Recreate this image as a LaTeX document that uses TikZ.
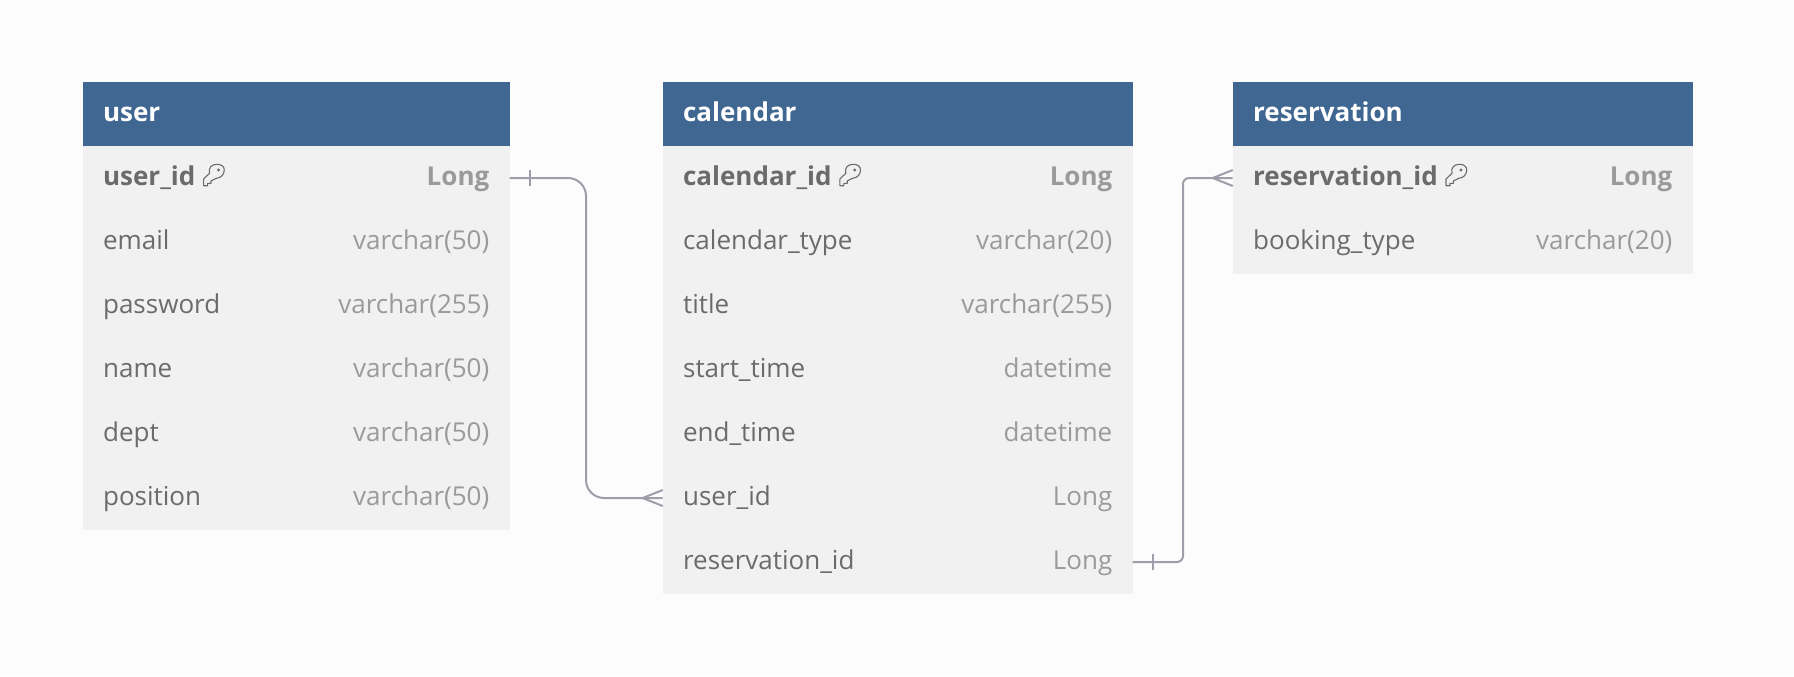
\documentclass[tikz,border=0pt]{standalone}
\usepackage{fontspec}
\setmainfont{Open Sans}
\definecolor{pagebg}{HTML}{FCFCFC}
\definecolor{headbg}{HTML}{406792}
\definecolor{rowbg}{HTML}{F1F1F1}
\definecolor{nametxt}{HTML}{6B6B6B}
\definecolor{typetxt}{HTML}{9A9A9A}
\definecolor{linkcol}{HTML}{9E9EAA}
\tikzset{
  x=.5pt,y=-.5pt,
  headbox/.style={fill=headbg,draw=none,inner sep=0pt,outer sep=0pt,minimum height=32pt},
  rowbox/.style={fill=rowbg,draw=none,inner sep=0pt,outer sep=0pt,minimum height=32pt},
  headtxt/.style={inner sep=0pt,anchor=base west,text=white,font=\fontsize{13}{13}\selectfont\bfseries},
  nametxtn/.style={inner sep=0pt,anchor=base west,text=nametxt,font=\fontsize{13}{13}\selectfont},
  typetxtn/.style={inner sep=0pt,anchor=base east,text=typetxt,font=\fontsize{13}{13}\selectfont},
  boldname/.style={nametxtn,font=\fontsize{13}{13}\selectfont\bfseries},
  boldtype/.style={typetxtn,font=\fontsize{13}{13}\selectfont\bfseries},
  link/.style={draw=linkcol,line width=1pt},
  keyline/.style={draw=nametxt,line width=.55pt,line cap=round,line join=round},
}
\newcommand{\tablehead}[4]{%
  \node[headbox,anchor=north west,minimum width=#3*.5pt] (#1) at (#2,82) {};
  \node[headtxt] (#1t) at ([xshift=10pt,yshift=-3.5pt]#1.west) {#4};
}
\newcommand{\tablerow}[6]{%
  \node[rowbox,anchor=west,minimum width=#3*.5pt] (#1) at (#2,#4) {};
  \node[nametxtn] (#1n) at ([xshift=10pt,yshift=-3.5pt]#1.west) {#5};
  \node[typetxtn] (#1y) at ([xshift=-10pt,yshift=-3.5pt]#1.east) {#6};
}
\newcommand{\keyrow}[6]{%
  \node[rowbox,anchor=west,minimum width=#3*.5pt] (#1) at (#2,#4) {};
  \node[boldname] (#1n) at ([xshift=10pt,yshift=-3.5pt]#1.west) {#5};
  \node[boldtype] (#1y) at ([xshift=-10pt,yshift=-3.5pt]#1.east) {#6};
  \begin{scope}[shift={(#1n.base east)},xshift=2.4pt]
    \draw[keyline] (3,0.7) -- (3,-6) -- (9,-11.7)
      .. controls (7.5,-17) and (11,-20.7) .. (16.4,-20.7)
      .. controls (21,-20.7) and (23.7,-18.5) .. (23.7,-15)
      .. controls (23.7,-10) and (20,-7) .. (15.7,-6.7)
      -- (10.4,-4) -- (10.4,-1.7) -- (7,-1.7) -- (7,0.7) -- cycle;
    \fill[nametxt] (18,-15) circle[radius=1.6];
  \end{scope}
}
\begin{document}
\begin{tikzpicture}
\useasboundingbox (0,0) rectangle (1794,676);
\fill[pagebg] (0,0) rectangle (1794,676);
% user
\tablehead{user}{82.7}{427}{user}
\keyrow{u1}{82.7}{427}{178}{user\_id}{Long}
\tablerow{u2}{82.7}{427}{242}{email}{varchar(50)}
\tablerow{u3}{82.7}{427}{306}{password}{varchar(255)}
\tablerow{u4}{82.7}{427}{370}{name}{varchar(50)}
\tablerow{u5}{82.7}{427}{434}{dept}{varchar(50)}
\tablerow{u6}{82.7}{427}{498}{position}{varchar(50)}
% calendar
\tablehead{cal}{662.7}{470}{calendar}
\keyrow{c1}{662.7}{470}{178}{calendar\_id}{Long}
\tablerow{c2}{662.7}{470}{242}{calendar\_type}{varchar(20)}
\tablerow{c3}{662.7}{470}{306}{title}{varchar(255)}
\tablerow{c4}{662.7}{470}{370}{start\_time}{datetime}
\tablerow{c5}{662.7}{470}{434}{end\_time}{datetime}
\tablerow{c6}{662.7}{470}{498}{user\_id}{Long}
\tablerow{c7}{662.7}{470}{562}{reservation\_id}{Long}
% reservation
\tablehead{res}{1232.7}{460}{reservation}
\keyrow{r1}{1232.7}{460}{178}{reservation\_id}{Long}
\tablerow{r2}{1232.7}{460}{242}{booking\_type}{varchar(20)}
% connectors
\coordinate (b1) at (586,178);
\coordinate (b2) at (586,498);
\draw[link,rounded corners=9pt] (u1.east) -- (b1) -- (b2) -- (c6.west);
\draw[link] ([xshift=10pt,yshift=-4pt]u1.east) -- ([xshift=10pt,yshift=4pt]u1.east);
\draw[link] ([xshift=-10pt]c6.west) -- ([yshift=4pt]c6.west);
\draw[link] ([xshift=-10pt]c6.west) -- ([yshift=-4pt]c6.west);
\coordinate (b3) at (1183,562);
\coordinate (b4) at (1183,178);
\draw[link,rounded corners=3pt] (c7.east) -- (b3) -- (b4) -- (r1.west);
\draw[link] ([xshift=10pt,yshift=-4pt]c7.east) -- ([xshift=10pt,yshift=4pt]c7.east);
\draw[link] ([xshift=-10pt]r1.west) -- ([yshift=4pt]r1.west);
\draw[link] ([xshift=-10pt]r1.west) -- ([yshift=-4pt]r1.west);
\end{tikzpicture}
\end{document}
